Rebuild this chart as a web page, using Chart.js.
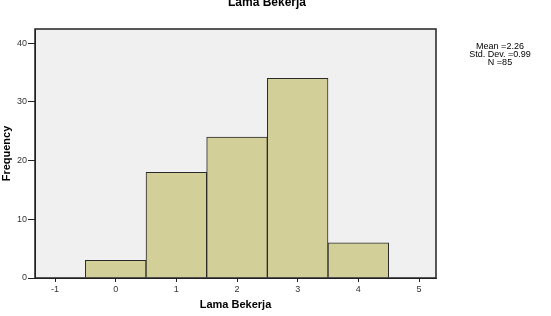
<!DOCTYPE html>
<html><head><meta charset="utf-8">
<script src="https://cdn.jsdelivr.net/npm/chart.js@4/dist/chart.umd.min.js"></script>
<style>html,body{margin:0;padding:0;background:#fff}#w{width:551px;height:316px}</style>
</head><body><div id="w"><canvas id="c"></canvas></div>
<script>
const categories = [0, 1, 2, 3, 4];
const frequencies = [3, 18, 24, 34, 6];
const xTickValues = [-1, 0, 1, 2, 3, 4, 5];
const yTickValues = [0, 10, 20, 30, 40];
const chartTitle = "Lama Bekerja";
const xTitle = "Lama Bekerja";
const yTitle = "Frequency";
const statsLines = ["Mean =2.26", "Std. Dev. =0.99", "N =85"];

const FONT = "'Liberation Sans', Arial, sans-serif";

const decor = {
  id: 'decor',
  beforeDraw(chart) {
    const {ctx, chartArea: a} = chart;
    ctx.save();
    ctx.fillStyle = '#f0f0f0';
    ctx.fillRect(a.left, a.top, a.right - a.left, a.bottom - a.top);
    ctx.restore();
  },
  afterDraw(chart) {
    const {ctx, chartArea: a} = chart;
    ctx.save();
    ctx.strokeStyle = '#222';
    ctx.lineWidth = 1.5;
    ctx.strokeRect(a.left, a.top, a.right - a.left, a.bottom - a.top);
    ctx.fillStyle = '#000';
    ctx.textAlign = 'center';
    ctx.textBaseline = 'middle';
    ctx.font = "bold 12px " + FONT;
    ctx.fillText(chartTitle, 267, 3);
    ctx.font = "9px " + FONT;
    statsLines.forEach((s, i) => ctx.fillText(s, 500, 47 + i * 8));
    ctx.restore();
  }
};

new Chart(document.getElementById('c'), {
  type: 'bar',
  data: {
    datasets: [{
      data: categories.map((c, i) => ({x: c, y: frequencies[i]})),
      backgroundColor: '#d3cf98',
      borderColor: '#2a2a2a',
      borderWidth: 1,
      barPercentage: 1,
      categoryPercentage: 1
    }]
  },
  options: {
    responsive: true,
    maintainAspectRatio: false,
    animation: false,
    layout: {padding: {top: 29, right: 115, left: 0, bottom: 0}},
    plugins: {legend: {display: false}, tooltip: {enabled: false}},
    scales: {
      x: {
        type: 'linear',
        offset: false,
        min: -1.33,
        max: 5.28,
        afterBuildTicks: s => { s.ticks = xTickValues.map(v => ({value: v})); },
        afterFit: s => { s.height = 38; },
        grid: {offset: false, drawOnChartArea: false, drawTicks: true, tickLength: 4, color: '#222'},
        border: {display: true, color: '#222', width: 1},
        ticks: {font: {size: 9, family: FONT}, color: '#333', padding: 2, maxRotation: 0},
        title: {display: true, text: xTitle, font: {size: 11, weight: 'bold', family: FONT}, color: '#000', padding: {top: 0, bottom: 4}}
      },
      y: {
        min: 0,
        max: 42.4,
        afterBuildTicks: s => { s.ticks = yTickValues.map(v => ({value: v})); },
        afterFit: s => { s.width = 35; },
        grid: {drawOnChartArea: false, drawTicks: true, tickLength: 7, color: '#222'},
        border: {display: true, color: '#222', width: 1},
        ticks: {font: {size: 9, family: FONT}, color: '#333', padding: 1},
        title: {display: true, text: yTitle, font: {size: 11, weight: 'bold', family: FONT}, color: '#000', padding: {top: 0, bottom: 0}}
      }
    }
  },
  plugins: [decor]
});
</script>
</body></html>
